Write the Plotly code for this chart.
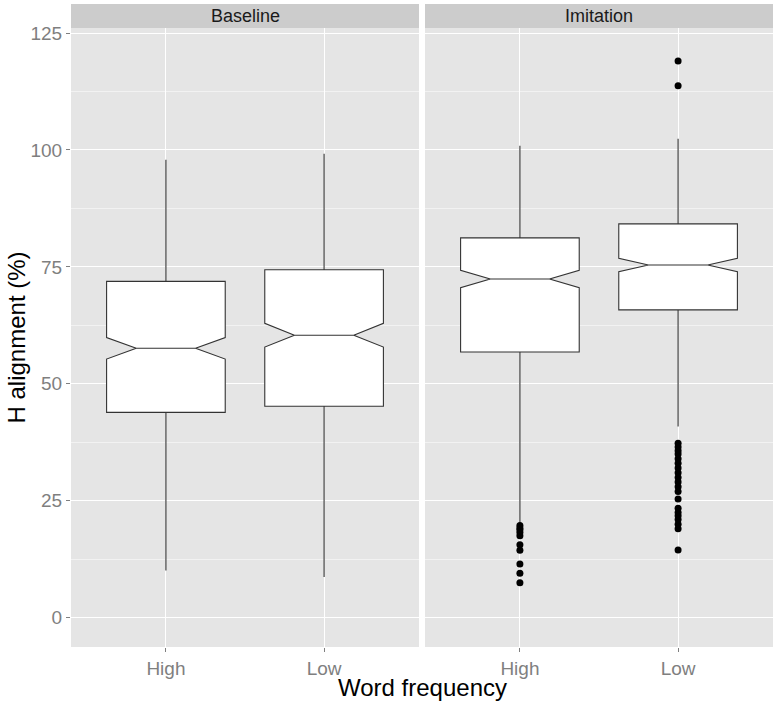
import plotly.graph_objects as go

# word frequency categories and panels
categories = ["High", "Low"]
panels = ["Baseline", "Imitation"]

# box stats, per panel: [High, Low]
q1 = {"Baseline": [43.9, 45.2], "Imitation": [56.8, 65.8]}
median = {"Baseline": [57.6, 60.4], "Imitation": [72.4, 75.4]}
q3 = {"Baseline": [71.9, 74.4], "Imitation": [81.2, 84.2]}
lower_whisker = {"Baseline": [10.1, 8.7], "Imitation": [20.3, 40.9]}
upper_whisker = {"Baseline": [97.9, 99.2], "Imitation": [100.9, 102.4]}
notch_half = {"Baseline": [2.3, 2.55], "Imitation": [1.85, 1.45]}

# outliers (Imitation panel only)
outliers_high = [19.7, 19.2, 18.8, 18.2, 17.5, 15.6, 14.4, 11.5, 9.5, 7.5]
outliers_low = [119.0, 113.7, 37.3, 36.5, 35.7, 35.0, 34.0, 33.0, 32.0, 31.0,
                30.0, 29.0, 28.0, 27.0, 25.4, 23.4, 22.5, 21.8, 21.0, 20.0,
                19.0, 14.5]

FONT = "Arial, Liberation Sans, sans-serif"
GREY_TXT = "#7F7F7F"

fig = go.Figure()

for i, p in enumerate(panels):
    xa = "x" if i == 0 else "x2"
    ya = "y" if i == 0 else "y2"
    fig.add_trace(go.Box(
        x=categories,
        q1=q1[p], median=median[p], q3=q3[p],
        lowerfence=lower_whisker[p], upperfence=upper_whisker[p],
        notched=True, notchspan=notch_half[p], notchwidth=0.25,
        width=0.75, whiskerwidth=0,
        fillcolor="white", line=dict(color="#333333", width=1.1),
        boxpoints=False, showlegend=False, hoverinfo="skip",
        xaxis=xa, yaxis=ya,
    ))

ox = ["High"] * len(outliers_high) + ["Low"] * len(outliers_low)
oy = outliers_high + outliers_low
fig.add_trace(go.Scatter(
    x=ox, y=oy, mode="markers",
    marker=dict(color="black", size=7),
    showlegend=False, xaxis="x2", yaxis="y2",
))

plot_w = 702
gap = 6
d1 = (plot_w - gap) / 2 / plot_w

xcommon = dict(
    type="category", categoryorder="array", categoryarray=categories,
    range=[-0.6, 1.6], showgrid=True, gridcolor="white", gridwidth=1,
    zeroline=False, showline=False, ticks="outside", ticklen=4,
    tickcolor=GREY_TXT, tickfont=dict(family=FONT, size=19, color=GREY_TXT),
    fixedrange=True,
)
ycommon = dict(
    range=[-6.26, 126.07], tickvals=[0, 25, 50, 75, 100, 125],
    showgrid=True, gridcolor="white", gridwidth=1, zeroline=False,
    showline=False,
    minor=dict(tick0=0, dtick=12.5, showgrid=True, gridcolor="#F2F2F2",
               gridwidth=0.6, ticks=""),
)

fig.update_layout(
    width=777, height=703,
    margin=dict(l=71, r=4, t=28, b=56),
    paper_bgcolor="white", plot_bgcolor="#E5E5E5",
    xaxis=dict(domain=[0, d1], anchor="y", **xcommon),
    xaxis2=dict(domain=[1 - d1, 1], anchor="y2", **xcommon),
    yaxis=dict(anchor="x", ticks="outside", ticklen=4, tickcolor=GREY_TXT,
               tickfont=dict(family=FONT, size=19, color=GREY_TXT), **ycommon),
    yaxis2=dict(anchor="x2", matches="y", showticklabels=False, ticks="",
                **ycommon),
    font=dict(family=FONT),
)

# facet strips
strip_h = 24 / 619
for i, p in enumerate(panels):
    xr = "x domain" if i == 0 else "x2 domain"
    yr = "y domain" if i == 0 else "y2 domain"
    fig.add_shape(type="rect", xref=xr, yref=yr, x0=0, x1=1,
                  y0=1, y1=1 + strip_h, fillcolor="#CCCCCC", line_width=0,
                  layer="below")
    fig.add_annotation(text=p, xref=xr, yref=yr, x=0.5, y=1 + strip_h / 2,
                       showarrow=False, font=dict(family=FONT, size=18,
                                                  color="#1A1A1A"),
                       xanchor="center", yanchor="middle")

# axis titles
fig.add_annotation(text="Word frequency", xref="paper", yref="paper",
                   x=0.5, y=0, yshift=-40, showarrow=False,
                   xanchor="center", yanchor="middle",
                   font=dict(family=FONT, size=24, color="black"))
fig.add_annotation(text="H alignment (%)", xref="paper", yref="paper",
                   x=0, xshift=-55, y=0.5, textangle=-90, showarrow=False,
                   xanchor="center", yanchor="middle",
                   font=dict(family=FONT, size=24, color="black"))

# drop the default body margin so the figure sits at the page corner
fig.write_html("out.html", config={"displayModeBar": False},
               post_script="document.body.style.margin='0';")
